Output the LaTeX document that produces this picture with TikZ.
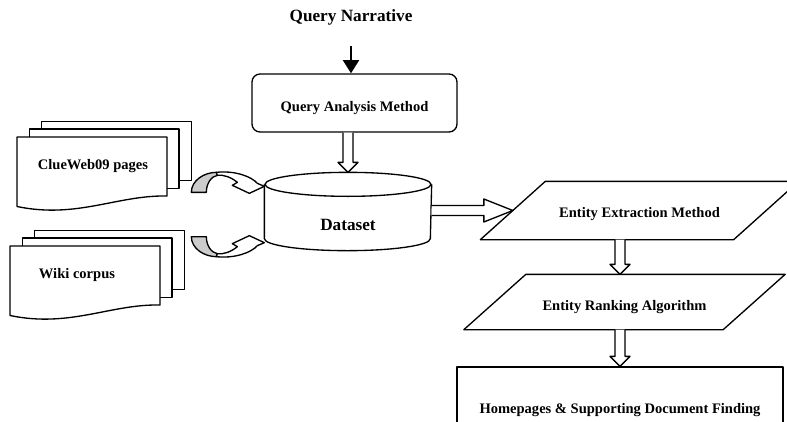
\documentclass[tikz,border=0pt]{standalone}
\usepackage{fontspec}
\setmainfont{Liberation Serif}
\usetikzlibrary{calc,arrows.meta}

% text moved down inside a node without changing its size
\newcommand{\lowtext}[2]{\raisebox{-#1}[\height][\depth]{#2}}
% white block arrows, pointing down / right
\newcommand{\dnarrow}[2]{\draw[fill=white] ($(#1)+(-5,0)$) -- ($(#2)+(-5,-10)$) -- ($(#2)+(-10,-10)$) -- (#2) -- ($(#2)+(10,-10)$) -- ($(#2)+(5,-10)$) -- ($(#1)+(5,0)$);}
\newcommand{\rtarrow}[2]{\draw[fill=white] ($(#1)+(0,-5)$) -- ($(#2)+(-29,-5)$) -- ($(#2)+(-29,-11.5)$) -- (#2) -- ($(#2)+(-29,11.5)$) -- ($(#2)+(-29,5)$) -- ($(#1)+(0,5)$);}
% parallelogram round a node, leaning right by 2*#2
\newcommand{\pgramdraw}[2]{\draw ($(#1.south west)+(-#2,0)$) -- ($(#1.south east)+(-#2,0)$) -- ($(#1.north east)+(#2,0)$) -- ($(#1.north west)+(#2,0)$) -- cycle;}

\tikzset{
  lbl/.style={font=\bfseries\fontsize{10.9}{13}\selectfont},
  big/.style={font=\bfseries\fontsize{12.9}{15}\selectfont},
  qbox/.style={lbl, draw, rounded corners=6pt, inner sep=0pt, minimum width=153.75pt, minimum height=43.5pt},
  pgram/.style={lbl, inner sep=0pt},
  rbox/.style={lbl, draw, inner sep=0pt, minimum width=244.5pt, minimum height=64.5pt},
  docstack/.pic={
    \draw[fill=white] (24.5,-15.5) rectangle (174.5,43.5);
    \draw[fill=white] (12.5,-8) rectangle (162,51.5);
    \draw[fill=white] (0,0) -- (150,0) -- (150,59) .. controls (100,58) and (60,82) .. (0,69.5) -- cycle;
  },
  crvarrow/.pic={
    \draw[fill=gray!40] (-73,6) .. controls (-73,-6) and (-60,-14) .. (-48,-14) -- (-47,-11)
      .. controls (-53,-10) and (-58,-3) .. (-58,6) -- cycle;
    \draw[fill=white] (-48,-14) .. controls (-30,-16) and (-13,-10) .. (-7,-3) -- (0,0) -- (-15,7)
      -- (-32,-1) -- (-27,-4) .. controls (-33,-9) and (-41,-12) .. (-47,-11) -- cycle;
  }
}

\begin{document}
\begin{tikzpicture}[x=0.75pt, y=-0.75pt, line width=1pt, line join=round]
  \clip (0,0) rectangle (787,421);

  % query side
  \node[big] (qn) at (351,17) {Query Narrative};
  \node[qbox] (qam) at (354.5,103) {\lowtext{3.75pt}{Query Analysis Method}\hspace{9.75pt}};
  \draw[line width=2pt, -{Triangle[width=12pt,length=10pt]}] ($(qn.south)+(0,16)$) -- (qn.south |- qam.north);

  % dataset
  \node[big, minimum width=124.5pt, minimum height=57.75pt, inner sep=0pt] (ds) at (348,211.5) {\lowtext{10pt}{Dataset}};
  \draw ($(ds.north west)+(0,12)$) -- ($(ds.south west)+(0,-12)$)
    arc[start angle=180, end angle=0, x radius=83, y radius=12] -- ($(ds.north east)+(0,12)$);
  \draw ($(ds.north)+(0,12)$) ellipse[x radius=83, y radius=12];

  % sources
  \pic at (17,137) {docstack};
  \node[lbl] (cw) at (93,166) {ClueWeb09 pages};
  \pic at (10,246) {docstack};
  \node[lbl] (wk) at (77,275) {Wiki corpus};
  \pic at ($(ds.north west)+(0,14)$) {crvarrow};
  \pic[yscale=-1] at ($(ds.south west)+(0,-8)$) {crvarrow};

  % entity side
  \node[pgram, minimum width=189pt, minimum height=42.75pt] (p1) at (639.5,210.5) {\lowtext{2.6pt}{Entity Extraction Method}};
  \pgramdraw{p1}{32.5}
  \node[pgram, minimum width=193.5pt, minimum height=40.5pt] (p2) at (624.5,302) {\lowtext{3.75pt}{Entity Ranking Algorithm}};
  \pgramdraw{p2}{31}
  \node[rbox] (hd) at (620,410) {Homepages \& Supporting Document Finding};

  \dnarrow{ds.north |- qam.south}{ds.north}
  \rtarrow{ds.east |- p1.west}{p1.west}
  \dnarrow{hd.north |- p1.south}{hd.north |- p2.north}
  \dnarrow{hd.north |- p2.south}{hd.north}
\end{tikzpicture}
\end{document}
